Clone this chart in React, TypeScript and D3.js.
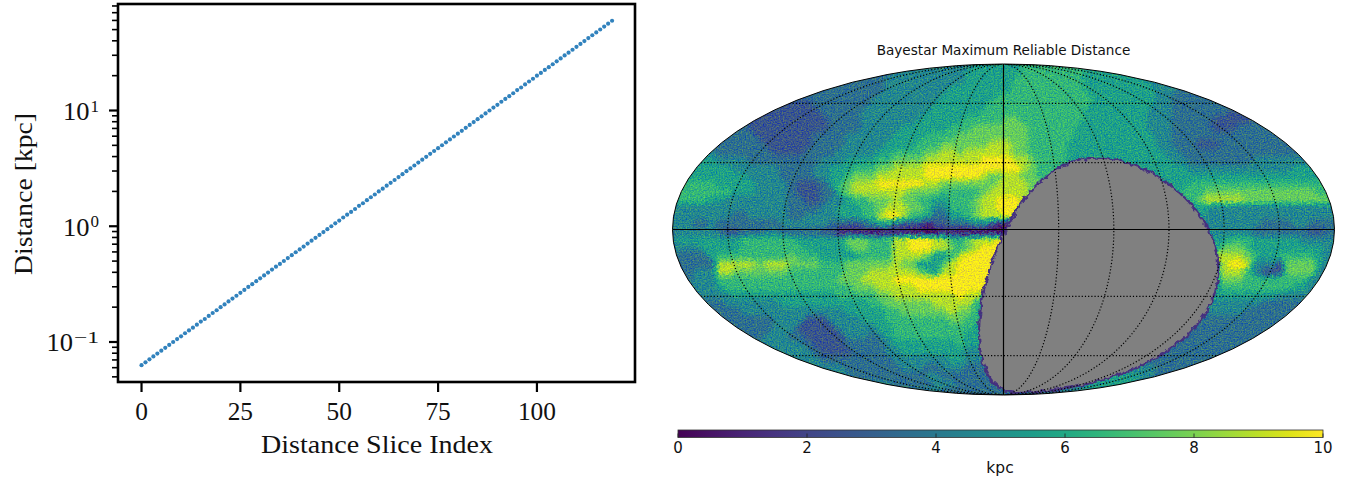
import React from 'react';
import * as d3 from 'd3';

// Left panel: distance of each slice (kpc)
const sliceDistances = [
  0.0631,0.0668,0.0708,0.0750,0.0794,0.0841,0.0891,0.0944,0.100,0.106,0.112,0.119,0.126,0.133,0.141,0.150,0.158,0.168,0.178,0.188,
  0.200,0.211,0.224,0.237,0.251,0.266,0.282,0.299,0.316,0.335,0.355,0.376,0.398,0.422,0.447,0.473,0.501,0.531,0.562,0.596,
  0.631,0.668,0.708,0.750,0.794,0.841,0.891,0.944,1.00,1.06,1.12,1.19,1.26,1.33,1.41,1.50,1.58,1.68,1.78,1.88,
  2.00,2.11,2.24,2.37,2.51,2.66,2.82,2.99,3.16,3.35,3.55,3.76,3.98,4.22,4.47,4.73,5.01,5.31,5.62,5.96,
  6.31,6.68,7.08,7.50,7.94,8.41,8.91,9.44,10.0,10.6,11.2,11.9,12.6,13.3,14.1,15.0,15.8,16.8,17.8,18.8,
  20.0,21.1,22.4,23.7,25.1,26.6,28.2,29.9,31.6,33.5,35.5,37.6,39.8,42.2,44.7,47.3,50.1,53.1,56.2,59.6,
];
const xTicks = [0, 25, 50, 75, 100];
const yMajor = [0.1, 1, 10];
const yMajorExp = ['\u22121', '0', '1'];
const yMinor = [0.05,0.06,0.07,0.08,0.09,0.2,0.3,0.4,0.5,0.6,0.7,0.8,0.9,2,3,4,5,6,7,8,9,20,30,40,50,60,70,80];

// Right panel: reading of the sky map, one digit per map cell (top to bottom, left to right)
const skyRows = [
  '333333 333333 333333 333333 333334 444444 445555 556666 666655 555555 444443 333333 333333 333333',
  '333333 333333 333333 333333 333344 444444 455555 556666 666655 555555 444433 333333 333333 333333',
  '333333 333333 333333 333333 333444 444444 455555 566666 666655 555555 444433 333333 333333 333333',
  '333333 333333 333333 333333 333444 444445 555555 566666 666655 555555 544433 333333 333333 333333',
  '333333 333333 333333 333333 334444 444455 555556 666666 666665 555555 544333 333333 333333 333333',
  '333333 333333 332222 333333 344444 444555 555566 666666 666665 555555 544333 333333 333333 333333',
  '333333 333332 222222 233333 444444 445555 555666 666666 666655 555555 444333 333322 233333 333333',
  '333333 333322 222222 223333 444444 455555 566666 776666 666655 555555 444333 332222 233333 333333',
  '333333 333322 222222 223333 444445 555556 667777 777666 666555 555555 444333 332223 333333 333333',
  '333333 333332 222222 333344 444455 556666 777777 777666 666555 555555 544333 333333 333333 333333',
  '333333 333333 222222 333344 444555 566677 777788 877666 665555 555555 544333 222333 333333 333333',
  '444444 333333 322223 333444 445566 667788 788888 877666 665555 555555 554433 333333 333333 333333',
  '555555 444433 333333 344455 556677 778888 888999 988766 665555 555555 555443 333333 344444 443333',
  '555555 554444 443333 445556 667788 889999 999999 998766 655555 555555 555554 444444 444444 555555',
  '555555 555544 443333 445567 778888 889999 999877 887766 655555 555555 555555 555555 555555 555555',
  '666666 555554 444322 235678 889999 998877 777778 888776 655555 555555 555556 666666 666666 666666',
  '666666 665554 444322 233678 888888 777766 666788 888776 655555 555555 555566 677777 777777 777666',
  '666665 544444 444332 234456 677787 766556 667889 998766 655555 555555 555566 788888 777777 777776',
  '444444 444444 444333 344555 667888 776446 667889 996566 655555 555555 555555 554444 444444 444444',
  '444444 443344 444334 444555 668998 665335 567888 964566 655555 555555 555555 544444 444444 444444',
  '444334 333333 334444 443322 345532 221223 334421 112222 222555 555555 555555 544444 443333 443333',
  '344444 322333 443333 322111 100111 000011 000000 000000 555555 555555 555555 554444 433333 332233',
  '455555 555666 666655 555577 766688 999886 678889 765555 555555 555555 555555 555566 655555 544444',
  '444455 555666 666665 555567 766688 999887 678999 765555 555555 555555 555555 555777 655555 555544',
  '433335 666666 666766 655555 666688 887556 899999 965555 555555 555555 555555 558888 765566 666544',
  '433333 888887 888777 766677 777787 755578 999999 965555 555555 555555 555555 555899 844427 777544',
  '333444 887777 777666 666677 788888 876588 999999 965555 555555 555555 555555 555888 642227 777433',
  '333444 666666 666666 666777 888899 999999 999986 655555 555555 555555 555555 555777 666666 664433',
  '334444 566666 666666 666667 778888 899999 999966 555555 555555 555555 555555 555666 666666 554433',
  '333344 445555 555555 555666 667788 888888 988665 555555 555555 555555 555555 555555 555544 443333',
  '333333 344444 445555 555555 566777 777888 886555 555555 555555 555555 555555 554444 443333 333333',
  '333333 333444 444444 444455 555667 777778 776555 555555 555555 555555 555555 544444 333333 333333',
  '333333 333333 344442 224444 555666 666667 766555 555555 555555 555555 555544 433333 333333 333333',
  '333333 333333 344422 222444 445566 666666 665555 555555 555555 555555 555433 333333 333333 333333',
  '444444 444333 444332 222244 434566 666666 655555 555555 555555 555555 554333 333333 333333 333333',
  '444444 444444 444443 222233 333455 555555 655555 555555 555555 555555 443333 333333 333333 333333',
  '444444 444444 444444 322223 333445 555555 544555 555555 555555 555553 333333 333333 333333 333333',
  '555555 555555 444444 433333 333344 444445 544455 555555 555555 555333 333333 333333 333333 333333',
  '555555 555555 555554 444433 333334 443344 433355 555555 555555 544444 433333 333333 333333 333333',
  '555555 555555 555555 544443 333333 334433 333333 555555 555444 555554 433333 333333 333333 333333',
  '555555 555555 555555 555554 444433 333444 333333 333555 554455 555544 333333 333333 333333 333333',
  '555555 555555 555555 555555 444444 444433 333333 333333 344455 555444 333333 333333 333333 333333',
  '555555 555555 555555 555555 444444 444433 333333 333333 344455 555444 333333 333333 333333 333333',
];
// kpc represented by each digit in skyRows
const digitKpc = [0.3, 1.1, 2.7, 3.5, 4.5, 5.5, 6.6, 7.7, 8.8, 9.9];
const meridians = [-150, -120, -90, -60, -30, 30, 60, 90, 120, 150];
const parallels = [-60, -30, 30, 60];
const barTicks = [0, 2, 4, 6, 8, 10];
const surveyGapCentre: [number, number] = [56.3, -27.1];
const surveyGapRadius = 59.4;

// Mollweide projection
function mollweideRaw(lambda: number, phi: number) {
  const target = Math.PI * Math.sin(phi);
  let t = phi;
  for (let i = 0; i < 30; i++) {
    const c = 1 + Math.cos(2 * t);
    if (c < 1e-9) break;
    const d = (2 * t + Math.sin(2 * t) - target) / (2 * c);
    t -= d;
    if (Math.abs(d) < 1e-8) break;
  }
  return [(2 * Math.SQRT2 / Math.PI) * lambda * Math.cos(t), Math.SQRT2 * Math.sin(t)];
}

const SERIF = '"Liberation Serif", serif';
const SANS = '"DejaVu Sans", sans-serif';
const INK = '#111';

export default function App() {
  // left panel
  const frame = { l: 118, r: 635, t: 4, b: 382 };
  const x = d3.scaleLinear().domain([-5.95, 124.8]).range([frame.l, frame.r]);
  const y = d3.scaleLog().domain([0.04512, 83.2]).range([frame.b, frame.t]);

  // right panel
  const projection = d3.geoProjection(mollweideRaw as any)
    .scale(331 / (2 * Math.SQRT2))
    .translate([1003.5, 229.5])
    .precision(0.3);
  const geo = d3.geoPath(projection);

  const cells = skyRows.map((r) => [...r.replace(/ /g, '')].map((c) => digitKpc[+c]));
  const cols = cells[0].length;
  const rows = cells.length;
  const field = cells.flat();
  const gx = d3.scaleLinear().domain([0.5, cols - 0.5]).range([672, 1336]);
  const gy = d3.scaleLinear().domain([0.5, rows - 0.5]).range([64, 400]);
  const gridPath = d3.geoPath(
    d3.geoTransform({
      point(this: any, a: number, b: number) {
        this.stream.point(gx(a), gy(b));
      },
    }),
  );
  const bands = d3.contours().size([cols, rows]).thresholds(d3.range(0, 10, 0.25))(field);
  const colour = d3.scaleSequential(d3.interpolateViridis).domain([0, 10]);

  const latSteps = d3.range(-90, 90.01, 2);
  const lonSteps = d3.range(-180, 180.01, 2);
  const meridianLine = (lon: number) => ({
    type: 'LineString',
    coordinates: latSteps.map((p) => [lon, Math.max(-89.9, Math.min(89.9, p))]),
  });
  const parallelLine = (lat: number) => ({
    type: 'LineString',
    coordinates: lonSteps.map((l) => [Math.max(-179.9, Math.min(179.9, l)), lat]),
  });
  const gap = d3.geoCircle().center(surveyGapCentre).radius(surveyGapRadius).precision(1)();
  const bar = d3.scaleLinear().domain([0, 10]).range([678, 1323]);
  const barSteps = d3.range(0, 10.01, 0.5);

  return (
    <svg
      width={1346}
      height={477}
      style={{ position: 'absolute', left: 0, top: 0, background: '#fff' }}
    >
      <defs>
        <clipPath id="sky">
          <path d={geo({ type: 'Sphere' } as any) as string} />
        </clipPath>
        <filter
          id="grain"
          x={660}
          y={50}
          width={690}
          height={360}
          filterUnits="userSpaceOnUse"
          colorInterpolationFilters="sRGB"
        >
          <feTurbulence type="fractalNoise" baseFrequency={0.35} numOctaves={2} seed={4} result="n1" />
          <feDisplacementMap in="SourceGraphic" in2="n1" scale={9} xChannelSelector="R" yChannelSelector="G" result="moved" />
          <feTurbulence type="fractalNoise" baseFrequency={0.73} numOctaves={2} seed={11} result="n2" />
          <feColorMatrix
            in="n2"
            type="matrix"
            values="0.5 0 0 0 0  0.5 0 0 0 0  -0.5 0 0 0 0.5  0 0 0 0 1"
            result="tint"
          />
          <feComposite in="moved" in2="tint" operator="arithmetic" k1={0} k2={1} k3={1} k4={-0.25} />
        </filter>
        <filter
          id="fray"
          x={660}
          y={50}
          width={690}
          height={360}
          filterUnits="userSpaceOnUse"
          colorInterpolationFilters="sRGB"
        >
          <feTurbulence type="fractalNoise" baseFrequency={0.2} numOctaves={3} seed={9} result="n" />
          <feDisplacementMap in="SourceGraphic" in2="n" scale={6} xChannelSelector="R" yChannelSelector="G" />
        </filter>
        <linearGradient id="barFill" x1="0" x2="1" y1="0" y2="0">
          {barSteps.map((v) => (
            <stop key={v} offset={v / 10} stopColor={colour(v)} />
          ))}
        </linearGradient>
      </defs>

      {/* Left panel */}
      <g>
        {yMinor.map((v) => (
          <line key={v} x1={frame.l - 6} x2={frame.l} y1={y(v)} y2={y(v)} stroke="#000" strokeWidth={1.6} />
        ))}
        {yMajor.map((v, i) => {
          const expWidth = i === 0 ? 25 : 8.5;
          const expRight = 99;
          return (
            <g key={v}>
              <line x1={frame.l - 9} x2={frame.l} y1={y(v)} y2={y(v)} stroke="#000" strokeWidth={2.2} />
              <text
                x={expRight - expWidth - 1}
                y={y(v) + 9.5}
                textAnchor="end"
                fontFamily={SERIF}
                fontSize={26}
                fill={INK}
                textLength={26.5}
                lengthAdjust="spacingAndGlyphs"
              >
                10
              </text>
              <text
                x={expRight - expWidth}
                y={y(v) + 1}
                fontFamily={SERIF}
                fontSize={17.5}
                fill={INK}
                textLength={expWidth}
                lengthAdjust="spacingAndGlyphs"
              >
                {yMajorExp[i]}
              </text>
            </g>
          );
        })}
        {xTicks.map((v) => (
          <g key={v}>
            <line x1={x(v)} x2={x(v)} y1={frame.b} y2={frame.b + 10} stroke="#000" strokeWidth={2.2} />
            <text
              x={x(v)}
              y={frame.b + 38}
              textAnchor="middle"
              fontFamily={SERIF}
              fontSize={26}
              fill={INK}
              textLength={String(v).length * 12.7}
              lengthAdjust="spacingAndGlyphs"
            >
              {v}
            </text>
          </g>
        ))}
        {sliceDistances.map((d, i) => (
          <circle key={i} cx={x(i)} cy={y(d)} r={2.1} fill="#3182bd" />
        ))}
        <rect
          x={frame.l}
          y={frame.t}
          width={frame.r - frame.l}
          height={frame.b - frame.t}
          fill="none"
          stroke="#000"
          strokeWidth={2.6}
        />
        <text
          x={377}
          y={453}
          textAnchor="middle"
          fontFamily={SERIF}
          fontSize={26}
          fill={INK}
          textLength={232}
          lengthAdjust="spacingAndGlyphs"
        >
          Distance Slice Index
        </text>
        <text
          transform="translate(32,194) rotate(-90)"
          textAnchor="middle"
          fontFamily={SERIF}
          fontSize={26}
          fill={INK}
          textLength={162}
          lengthAdjust="spacingAndGlyphs"
        >
          Distance [kpc]
        </text>
      </g>

      {/* Right panel */}
      <text x={1003.5} y={55} textAnchor="middle" fontFamily={SANS} fontSize={13.6} fill={INK}>
        Bayestar Maximum Reliable Distance
      </text>
      <g clipPath="url(#sky)">
        <g filter="url(#grain)">
          {bands.map((b) => (
            <path key={b.value} d={gridPath(b as any) as string} fill={colour(b.value + 0.125)} />
          ))}
        </g>
        <g filter="url(#fray)">
          <path d={geo(gap as any) as string} fill="#808080" stroke="#45307f" strokeWidth={2.2} />
        </g>
        {meridians.map((l) => (
          <path key={l} d={geo(meridianLine(l) as any) as string} fill="none" stroke="#000" strokeWidth={1.2} strokeDasharray="1.2 2" />
        ))}
        {parallels.map((l) => (
          <path key={l} d={geo(parallelLine(l) as any) as string} fill="none" stroke="#000" strokeWidth={1.2} strokeDasharray="1.2 2" />
        ))}
        <path d={geo(meridianLine(0) as any) as string} fill="none" stroke="#000" strokeWidth={1.2} />
        <path d={geo(parallelLine(0) as any) as string} fill="none" stroke="#000" strokeWidth={1.2} />
      </g>
      <path d={geo({ type: 'Sphere' } as any) as string} fill="none" stroke="#000" strokeWidth={1} />

      {/* Colour bar */}
      <rect x={678} y={430} width={645} height={7.5} fill="url(#barFill)" stroke="#333" strokeWidth={0.8} />
      {barTicks.map((v) => (
        <g key={v}>
          <line x1={bar(v)} x2={bar(v)} y1={433.5} y2={437.5} stroke="#222" strokeWidth={0.8} />
          <text x={bar(v)} y={453} textAnchor="middle" fontFamily={SANS} fontSize={15} fill={INK}>
            {v}
          </text>
        </g>
      ))}
      <text x={1000} y={473} textAnchor="middle" fontFamily={SANS} fontSize={15.5} fill={INK}>
        kpc
      </text>
    </svg>
  );
}
